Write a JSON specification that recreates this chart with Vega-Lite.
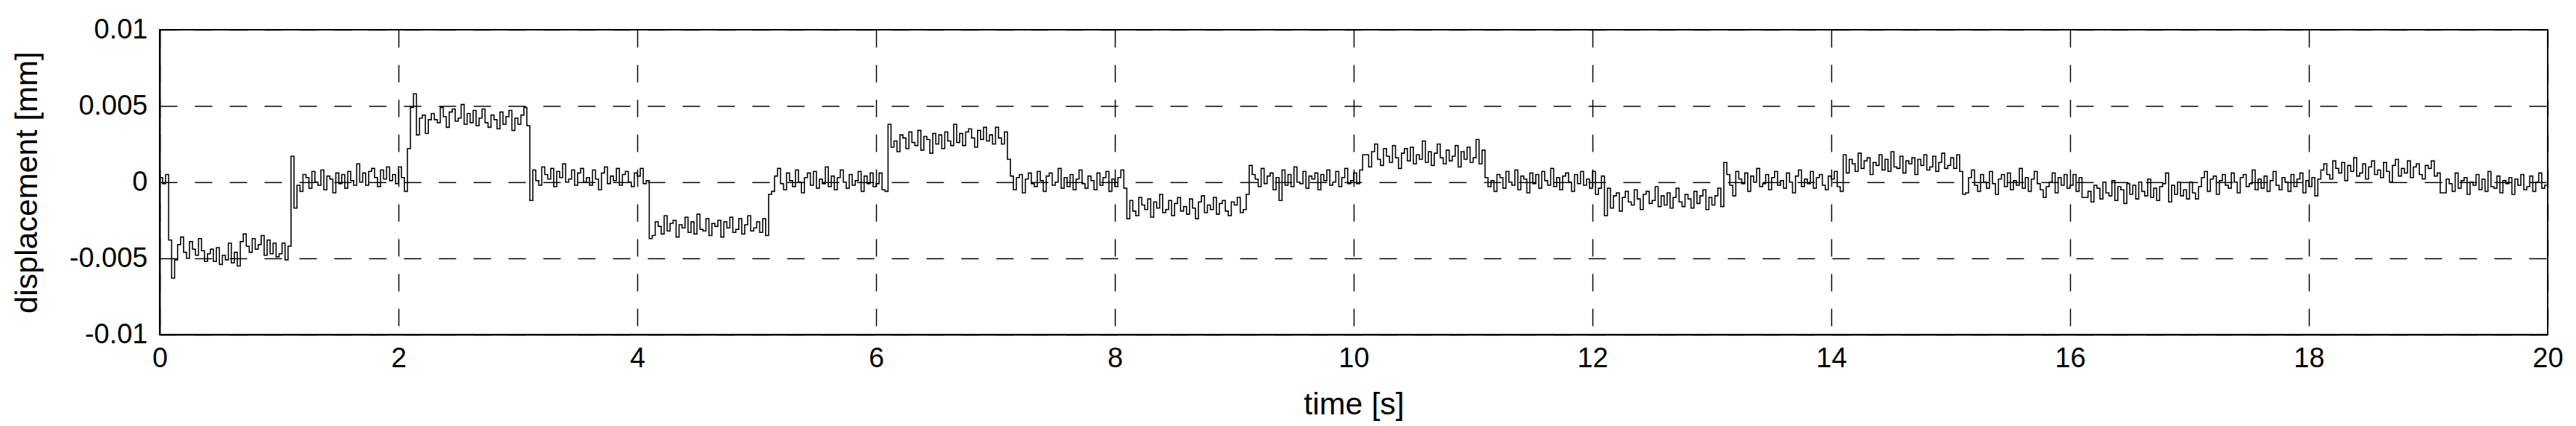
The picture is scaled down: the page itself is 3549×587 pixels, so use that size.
{
"$schema":"https://vega.github.io/schema/vega-lite/v6.json",
"width":3290,"height":420,
"autosize":{"type":"none"},
"padding":{"left":220,"top":41,"right":39,"bottom":126},
"background":"white",
"config":{"view":{"stroke":"black","strokeWidth":2},"font":"Liberation Sans"},
"data":{"values":[
{"t":0,"y":0.0003},{"t":0.025,"y":-0.0001},{"t":0.05,"y":0.0005},{"t":0.075,"y":-0.0038},{"t":0.1,"y":-0.0063},{"t":0.125,"y":-0.0051},{"t":0.15,"y":-0.0041},{"t":0.175,"y":-0.0036},{"t":0.2,"y":-0.0046},{"t":0.225,"y":-0.005},{"t":0.25,"y":-0.0039},{"t":0.275,"y":-0.0044},{"t":0.3,"y":-0.0048},{"t":0.325,"y":-0.0037},{"t":0.35,"y":-0.0045},{"t":0.375,"y":-0.0052},{"t":0.4,"y":-0.0047},{"t":0.425,"y":-0.0044},{"t":0.45,"y":-0.0052},{"t":0.475,"y":-0.0043},{"t":0.5,"y":-0.0054},{"t":0.525,"y":-0.0048},{"t":0.55,"y":-0.0051},{"t":0.575,"y":-0.004},{"t":0.6,"y":-0.0053},{"t":0.625,"y":-0.0046},{"t":0.65,"y":-0.0055},{"t":0.675,"y":-0.0039},{"t":0.7,"y":-0.0034},{"t":0.725,"y":-0.0042},{"t":0.75,"y":-0.0046},{"t":0.775,"y":-0.0037},{"t":0.8,"y":-0.0044},{"t":0.825,"y":-0.0041},{"t":0.85,"y":-0.0035},{"t":0.875,"y":-0.0048},{"t":0.9,"y":-0.0038},{"t":0.925,"y":-0.0047},{"t":0.95,"y":-0.004},{"t":0.975,"y":-0.0049},
{"t":1,"y":-0.0047},{"t":1.025,"y":-0.004},{"t":1.05,"y":-0.0051},{"t":1.075,"y":-0.0042},{"t":1.1,"y":0.0017},{"t":1.125,"y":-0.0017},{"t":1.15,"y":-0.0002},{"t":1.175,"y":-0.0006},{"t":1.2,"y":0.0005},{"t":1.225,"y":0.0003},{"t":1.25,"y":-0.0004},{"t":1.275,"y":0.0007},{"t":1.3,"y":0},{"t":1.325,"y":-0.0002},{"t":1.35,"y":0.0008},{"t":1.375,"y":-0.0005},{"t":1.4,"y":0.0004},{"t":1.425,"y":0.0002},{"t":1.45,"y":-0.0007},{"t":1.475,"y":0.0006},{"t":1.5,"y":-0.0001},{"t":1.525,"y":0.0005},{"t":1.55,"y":-0.0004},{"t":1.575,"y":0.0007},{"t":1.6,"y":0.0001},{"t":1.625,"y":-0.0002},{"t":1.65,"y":0.0012},{"t":1.675,"y":0},{"t":1.7,"y":0.0006},{"t":1.725,"y":-0.0002},{"t":1.75,"y":0.0007},{"t":1.775,"y":0.0009},{"t":1.8,"y":0.0003},{"t":1.825,"y":-0.0003},{"t":1.85,"y":0.0008},{"t":1.875,"y":0.0002},{"t":1.9,"y":0.001},{"t":1.925,"y":0.0001},{"t":1.95,"y":0.0005},{"t":1.975,"y":-0.0001},
{"t":2,"y":0.001},{"t":2.025,"y":0.0003},{"t":2.05,"y":-0.0006},{"t":2.075,"y":0.0022},{"t":2.1,"y":0.0049},{"t":2.125,"y":0.0058},{"t":2.15,"y":0.0031},{"t":2.175,"y":0.0042},{"t":2.2,"y":0.0044},{"t":2.225,"y":0.0032},{"t":2.25,"y":0.0041},{"t":2.275,"y":0.0045},{"t":2.3,"y":0.0041},{"t":2.325,"y":0.0039},{"t":2.35,"y":0.0049},{"t":2.375,"y":0.0043},{"t":2.4,"y":0.0036},{"t":2.425,"y":0.0046},{"t":2.45,"y":0.0048},{"t":2.475,"y":0.004},{"t":2.5,"y":0.0042},{"t":2.525,"y":0.0051},{"t":2.55,"y":0.0038},{"t":2.575,"y":0.0045},{"t":2.6,"y":0.0039},{"t":2.625,"y":0.0047},{"t":2.65,"y":0.0037},{"t":2.675,"y":0.0042},{"t":2.7,"y":0.0048},{"t":2.725,"y":0.0039},{"t":2.75,"y":0.0036},{"t":2.775,"y":0.0044},{"t":2.8,"y":0.0041},{"t":2.825,"y":0.0035},{"t":2.85,"y":0.0046},{"t":2.875,"y":0.0038},{"t":2.9,"y":0.0043},{"t":2.925,"y":0.0047},{"t":2.95,"y":0.0034},{"t":2.975,"y":0.0042},
{"t":3,"y":0.0038},{"t":3.025,"y":0.0044},{"t":3.05,"y":0.0049},{"t":3.075,"y":0.0037},{"t":3.1,"y":-0.0012},{"t":3.125,"y":0.0008},{"t":3.15,"y":0.0001},{"t":3.175,"y":-0.0002},{"t":3.2,"y":0.001},{"t":3.225,"y":0.0005},{"t":3.25,"y":0.0002},{"t":3.275,"y":0.0009},{"t":3.3,"y":-0.0003},{"t":3.325,"y":0.0007},{"t":3.35,"y":0.0003},{"t":3.375,"y":0.0012},{"t":3.4,"y":0},{"t":3.425,"y":0.0002},{"t":3.45,"y":0.0008},{"t":3.475,"y":-0.0002},{"t":3.5,"y":0.0006},{"t":3.525,"y":0.0009},{"t":3.55,"y":0},{"t":3.575,"y":0.0003},{"t":3.6,"y":-0.0002},{"t":3.625,"y":0.0008},{"t":3.65,"y":0.0002},{"t":3.675,"y":-0.0005},{"t":3.7,"y":0.0006},{"t":3.725,"y":0.001},{"t":3.75,"y":-0.0001},{"t":3.775,"y":0.0004},{"t":3.8,"y":0.0001},{"t":3.825,"y":0.0009},{"t":3.85,"y":-0.0002},{"t":3.875,"y":0.0005},{"t":3.9,"y":0.0007},{"t":3.925,"y":0},{"t":3.95,"y":-0.0003},{"t":3.975,"y":0.0006},
{"t":4,"y":0.0004},{"t":4.025,"y":0.0009},{"t":4.05,"y":-0.0001},{"t":4.075,"y":0.0001},{"t":4.1,"y":-0.0037},{"t":4.125,"y":-0.0035},{"t":4.15,"y":-0.0026},{"t":4.175,"y":-0.0029},{"t":4.2,"y":-0.0034},{"t":4.225,"y":-0.0022},{"t":4.25,"y":-0.0032},{"t":4.275,"y":-0.0027},{"t":4.3,"y":-0.0025},{"t":4.325,"y":-0.0036},{"t":4.35,"y":-0.0028},{"t":4.375,"y":-0.003},{"t":4.4,"y":-0.0023},{"t":4.425,"y":-0.0033},{"t":4.45,"y":-0.0026},{"t":4.475,"y":-0.0034},{"t":4.5,"y":-0.0021},{"t":4.525,"y":-0.0031},{"t":4.55,"y":-0.0032},{"t":4.575,"y":-0.0024},{"t":4.6,"y":-0.0035},{"t":4.625,"y":-0.0027},{"t":4.65,"y":-0.0029},{"t":4.675,"y":-0.0025},{"t":4.7,"y":-0.0036},{"t":4.725,"y":-0.0026},{"t":4.75,"y":-0.003},{"t":4.775,"y":-0.0023},{"t":4.8,"y":-0.0033},{"t":4.825,"y":-0.0031},{"t":4.85,"y":-0.0024},{"t":4.875,"y":-0.0034},{"t":4.9,"y":-0.0028},{"t":4.925,"y":-0.0022},{"t":4.95,"y":-0.0032},{"t":4.975,"y":-0.003},
{"t":5,"y":-0.0026},{"t":5.025,"y":-0.0033},{"t":5.05,"y":-0.0024},{"t":5.075,"y":-0.0035},{"t":5.1,"y":-0.0008},{"t":5.125,"y":-0.0006},{"t":5.15,"y":0.0004},{"t":5.175,"y":0.0009},{"t":5.2,"y":-0.0001},{"t":5.225,"y":-0.0005},{"t":5.25,"y":0.0006},{"t":5.275,"y":0.0001},{"t":5.3,"y":-0.0003},{"t":5.325,"y":0.0008},{"t":5.35,"y":0},{"t":5.375,"y":-0.0007},{"t":5.4,"y":0.0003},{"t":5.425,"y":0.0006},{"t":5.45,"y":-0.0002},{"t":5.475,"y":0.0007},{"t":5.5,"y":-0.0004},{"t":5.525,"y":0.0002},{"t":5.55,"y":-0.0001},{"t":5.575,"y":0.001},{"t":5.6,"y":-0.0003},{"t":5.625,"y":0.0004},{"t":5.65,"y":-0.0005},{"t":5.675,"y":0.0003},{"t":5.7,"y":0.0008},{"t":5.725,"y":0},{"t":5.75,"y":-0.0004},{"t":5.775,"y":0.0005},{"t":5.8,"y":-0.0002},{"t":5.825,"y":0.0001},{"t":5.85,"y":0.0007},{"t":5.875,"y":-0.0006},{"t":5.9,"y":0.0004},{"t":5.925,"y":-0.0001},{"t":5.95,"y":0.0006},{"t":5.975,"y":-0.0003},
{"t":6,"y":-0.0001},{"t":6.025,"y":0.0006},{"t":6.05,"y":-0.0005},{"t":6.075,"y":-0.0006},{"t":6.1,"y":0.0038},{"t":6.125,"y":0.0023},{"t":6.15,"y":0.0027},{"t":6.175,"y":0.002},{"t":6.2,"y":0.0031},{"t":6.225,"y":0.0029},{"t":6.25,"y":0.0022},{"t":6.275,"y":0.0033},{"t":6.3,"y":0.0026},{"t":6.325,"y":0.0024},{"t":6.35,"y":0.0034},{"t":6.375,"y":0.0021},{"t":6.4,"y":0.003},{"t":6.425,"y":0.0028},{"t":6.45,"y":0.0019},{"t":6.475,"y":0.0032},{"t":6.5,"y":0.0025},{"t":6.525,"y":0.0031},{"t":6.55,"y":0.0022},{"t":6.575,"y":0.0033},{"t":6.6,"y":0.0027},{"t":6.625,"y":0.0024},{"t":6.65,"y":0.0038},{"t":6.675,"y":0.0026},{"t":6.7,"y":0.0032},{"t":6.725,"y":0.0024},{"t":6.75,"y":0.0033},{"t":6.775,"y":0.0035},{"t":6.8,"y":0.0029},{"t":6.825,"y":0.0023},{"t":6.85,"y":0.0034},{"t":6.875,"y":0.0028},{"t":6.9,"y":0.0036},{"t":6.925,"y":0.0027},{"t":6.95,"y":0.0031},{"t":6.975,"y":0.0025},
{"t":7,"y":0.0036},{"t":7.025,"y":0.0029},{"t":7.05,"y":0.0025},{"t":7.075,"y":0.0033},{"t":7.1,"y":0.0015},{"t":7.125,"y":0.0004},{"t":7.15,"y":-0.0005},{"t":7.175,"y":0.0003},{"t":7.2,"y":0.0005},{"t":7.225,"y":-0.0007},{"t":7.25,"y":0.0002},{"t":7.275,"y":0.0006},{"t":7.3,"y":-0.0001},{"t":7.325,"y":-0.0003},{"t":7.35,"y":0.0007},{"t":7.375,"y":0.0001},{"t":7.4,"y":-0.0006},{"t":7.425,"y":0.0004},{"t":7.45,"y":0.0006},{"t":7.475,"y":-0.0002},{"t":7.5,"y":0},{"t":7.525,"y":0.0009},{"t":7.55,"y":-0.0004},{"t":7.575,"y":0.0003},{"t":7.6,"y":-0.0003},{"t":7.625,"y":0.0005},{"t":7.65,"y":-0.0005},{"t":7.675,"y":0.0002},{"t":7.7,"y":0.0008},{"t":7.725,"y":-0.0001},{"t":7.75,"y":-0.0004},{"t":7.775,"y":0.0004},{"t":7.8,"y":0.0001},{"t":7.825,"y":-0.0005},{"t":7.85,"y":0.0006},{"t":7.875,"y":-0.0002},{"t":7.9,"y":0.0003},{"t":7.925,"y":0.0007},{"t":7.95,"y":-0.0006},{"t":7.975,"y":0.0002},
{"t":8,"y":-0.0003},{"t":8.025,"y":0.0003},{"t":8.05,"y":0.0008},{"t":8.075,"y":-0.0004},{"t":8.1,"y":-0.0024},{"t":8.125,"y":-0.0012},{"t":8.15,"y":-0.0019},{"t":8.175,"y":-0.0022},{"t":8.2,"y":-0.001},{"t":8.225,"y":-0.0015},{"t":8.25,"y":-0.0018},{"t":8.275,"y":-0.0011},{"t":8.3,"y":-0.0023},{"t":8.325,"y":-0.0013},{"t":8.35,"y":-0.0017},{"t":8.375,"y":-0.0008},{"t":8.4,"y":-0.002},{"t":8.425,"y":-0.0018},{"t":8.45,"y":-0.0012},{"t":8.475,"y":-0.0022},{"t":8.5,"y":-0.0014},{"t":8.525,"y":-0.001},{"t":8.55,"y":-0.0019},{"t":8.575,"y":-0.0016},{"t":8.6,"y":-0.0021},{"t":8.625,"y":-0.0011},{"t":8.65,"y":-0.0017},{"t":8.675,"y":-0.0024},{"t":8.7,"y":-0.0013},{"t":8.725,"y":-0.0009},{"t":8.75,"y":-0.002},{"t":8.775,"y":-0.0015},{"t":8.8,"y":-0.0018},{"t":8.825,"y":-0.001},{"t":8.85,"y":-0.0021},{"t":8.875,"y":-0.0014},{"t":8.9,"y":-0.0012},{"t":8.925,"y":-0.0019},{"t":8.95,"y":-0.0022},{"t":8.975,"y":-0.0013},
{"t":9,"y":-0.0015},{"t":9.025,"y":-0.001},{"t":9.05,"y":-0.002},{"t":9.075,"y":-0.0018},{"t":9.1,"y":-0.0008},{"t":9.125,"y":0.0011},{"t":9.15,"y":0.0005},{"t":9.175,"y":0.0002},{"t":9.2,"y":-0.0003},{"t":9.225,"y":0.0009},{"t":9.25,"y":-0.0001},{"t":9.275,"y":0.0004},{"t":9.3,"y":0.0006},{"t":9.325,"y":-0.0005},{"t":9.35,"y":0.0003},{"t":9.375,"y":-0.0012},{"t":9.4,"y":0.0008},{"t":9.425,"y":-0.0002},{"t":9.45,"y":0.0005},{"t":9.475,"y":-0.0003},{"t":9.5,"y":0.001},{"t":9.525,"y":0},{"t":9.55,"y":-0.0001},{"t":9.575,"y":0.0007},{"t":9.6,"y":-0.0004},{"t":9.625,"y":0.0004},{"t":9.65,"y":0.0002},{"t":9.675,"y":0.0006},{"t":9.7,"y":-0.0005},{"t":9.725,"y":0.0005},{"t":9.75,"y":0.0001},{"t":9.775,"y":0.0008},{"t":9.8,"y":-0.0002},{"t":9.825,"y":0},{"t":9.85,"y":0.0007},{"t":9.875,"y":-0.0003},{"t":9.9,"y":0.0003},{"t":9.925,"y":0.0009},{"t":9.95,"y":-0.0001},{"t":9.975,"y":0.0001},
{"t":10,"y":0.0006},{"t":10.025,"y":-0.0001},{"t":10.05,"y":0.0008},{"t":10.075,"y":0.0018},{"t":10.1,"y":0.0018},{"t":10.125,"y":0.001},{"t":10.15,"y":0.002},{"t":10.175,"y":0.0025},{"t":10.2,"y":0.0015},{"t":10.225,"y":0.0011},{"t":10.25,"y":0.0022},{"t":10.275,"y":0.0017},{"t":10.3,"y":0.0013},{"t":10.325,"y":0.0024},{"t":10.35,"y":0.0016},{"t":10.375,"y":0.0009},{"t":10.4,"y":0.0019},{"t":10.425,"y":0.0022},{"t":10.45,"y":0.0014},{"t":10.475,"y":0.0023},{"t":10.5,"y":0.0012},{"t":10.525,"y":0.0018},{"t":10.55,"y":0.0015},{"t":10.575,"y":0.0027},{"t":10.6,"y":0.0013},{"t":10.625,"y":0.002},{"t":10.65,"y":0.0011},{"t":10.675,"y":0.0019},{"t":10.7,"y":0.0025},{"t":10.725,"y":0.0016},{"t":10.75,"y":0.0012},{"t":10.775,"y":0.0021},{"t":10.8,"y":0.0014},{"t":10.825,"y":0.0017},{"t":10.85,"y":0.0024},{"t":10.875,"y":0.001},{"t":10.9,"y":0.002},{"t":10.925,"y":0.0015},{"t":10.95,"y":0.0023},{"t":10.975,"y":0.0013},
{"t":11,"y":0.0016},{"t":11.025,"y":0.0028},{"t":11.05,"y":0.0012},{"t":11.075,"y":0.0021},{"t":11.1,"y":0.0003},{"t":11.125,"y":-0.0003},{"t":11.15,"y":0.0001},{"t":11.175,"y":-0.0006},{"t":11.2,"y":0.0005},{"t":11.225,"y":0.0003},{"t":11.25,"y":-0.0004},{"t":11.275,"y":0.0007},{"t":11.3,"y":0},{"t":11.325,"y":-0.0002},{"t":11.35,"y":0.0008},{"t":11.375,"y":-0.0005},{"t":11.4,"y":0.0004},{"t":11.425,"y":0.0002},{"t":11.45,"y":-0.0007},{"t":11.475,"y":0.0006},{"t":11.5,"y":-0.0001},{"t":11.525,"y":0.0005},{"t":11.55,"y":-0.0004},{"t":11.575,"y":0.0007},{"t":11.6,"y":0.0001},{"t":11.625,"y":-0.0002},{"t":11.65,"y":0.0009},{"t":11.675,"y":-0.0003},{"t":11.7,"y":0.0003},{"t":11.725,"y":-0.0005},{"t":11.75,"y":0.0004},{"t":11.775,"y":0.0006},{"t":11.8,"y":0},{"t":11.825,"y":-0.0006},{"t":11.85,"y":0.0005},{"t":11.875,"y":-0.0001},{"t":11.9,"y":0.0007},{"t":11.925,"y":-0.0002},{"t":11.95,"y":0.0002},{"t":11.975,"y":-0.0004},
{"t":12,"y":0.0007},{"t":12.025,"y":-0.0008},{"t":12.05,"y":-0.0004},{"t":12.075,"y":0.0004},{"t":12.1,"y":-0.0022},{"t":12.125,"y":-0.0004},{"t":12.15,"y":-0.0017},{"t":12.175,"y":-0.0009},{"t":12.2,"y":-0.0007},{"t":12.225,"y":-0.0019},{"t":12.25,"y":-0.001},{"t":12.275,"y":-0.0006},{"t":12.3,"y":-0.0013},{"t":12.325,"y":-0.0015},{"t":12.35,"y":-0.0005},{"t":12.375,"y":-0.0011},{"t":12.4,"y":-0.0018},{"t":12.425,"y":-0.0008},{"t":12.45,"y":-0.0006},{"t":12.475,"y":-0.0014},{"t":12.5,"y":-0.0012},{"t":12.525,"y":-0.0003},{"t":12.55,"y":-0.0016},{"t":12.575,"y":-0.0009},{"t":12.6,"y":-0.0015},{"t":12.625,"y":-0.0007},{"t":12.65,"y":-0.0017},{"t":12.675,"y":-0.001},{"t":12.7,"y":-0.0004},{"t":12.725,"y":-0.0013},{"t":12.75,"y":-0.0016},{"t":12.775,"y":-0.0008},{"t":12.8,"y":-0.0011},{"t":12.825,"y":-0.0017},{"t":12.85,"y":-0.0006},{"t":12.875,"y":-0.0014},{"t":12.9,"y":-0.0009},{"t":12.925,"y":-0.0005},{"t":12.95,"y":-0.0018},{"t":12.975,"y":-0.001},
{"t":13,"y":-0.0015},{"t":13.025,"y":-0.0009},{"t":13.05,"y":-0.0004},{"t":13.075,"y":-0.0016},{"t":13.1,"y":0.0013},{"t":13.125,"y":0.0005},{"t":13.15,"y":-0.0002},{"t":13.175,"y":-0.0009},{"t":13.2,"y":0.0007},{"t":13.225,"y":0.0002},{"t":13.25,"y":-0.0001},{"t":13.275,"y":0.0006},{"t":13.3,"y":-0.0006},{"t":13.325,"y":0.0004},{"t":13.35,"y":0},{"t":13.375,"y":0.0009},{"t":13.4,"y":-0.0003},{"t":13.425,"y":-0.0001},{"t":13.45,"y":0.0005},{"t":13.475,"y":-0.0005},{"t":13.5,"y":0.0003},{"t":13.525,"y":0.0007},{"t":13.55,"y":-0.0002},{"t":13.575,"y":0.0001},{"t":13.6,"y":-0.0004},{"t":13.625,"y":0.0006},{"t":13.65,"y":0},{"t":13.675,"y":-0.0007},{"t":13.7,"y":0.0004},{"t":13.725,"y":0.0008},{"t":13.75,"y":-0.0003},{"t":13.775,"y":0.0002},{"t":13.8,"y":-0.0001},{"t":13.825,"y":0.0007},{"t":13.85,"y":-0.0004},{"t":13.875,"y":0.0003},{"t":13.9,"y":0.0005},{"t":13.925,"y":-0.0002},{"t":13.95,"y":-0.0005},{"t":13.975,"y":0.0004},
{"t":14,"y":0.0002},{"t":14.025,"y":0.0007},{"t":14.05,"y":-0.0003},{"t":14.075,"y":-0.0006},{"t":14.1,"y":0.0018},{"t":14.125,"y":0.0006},{"t":14.15,"y":0.0015},{"t":14.175,"y":0.0012},{"t":14.2,"y":0.0007},{"t":14.225,"y":0.0019},{"t":14.25,"y":0.0009},{"t":14.275,"y":0.0014},{"t":14.3,"y":0.0016},{"t":14.325,"y":0.0005},{"t":14.35,"y":0.0013},{"t":14.375,"y":0.0011},{"t":14.4,"y":0.0018},{"t":14.425,"y":0.0008},{"t":14.45,"y":0.0015},{"t":14.475,"y":0.0007},{"t":14.5,"y":0.002},{"t":14.525,"y":0.001},{"t":14.55,"y":0.0009},{"t":14.575,"y":0.0017},{"t":14.6,"y":0.0006},{"t":14.625,"y":0.0014},{"t":14.65,"y":0.0012},{"t":14.675,"y":0.0016},{"t":14.7,"y":0.0005},{"t":14.725,"y":0.0015},{"t":14.75,"y":0.0011},{"t":14.775,"y":0.0018},{"t":14.8,"y":0.0008},{"t":14.825,"y":0.001},{"t":14.85,"y":0.0017},{"t":14.875,"y":0.0007},{"t":14.9,"y":0.0013},{"t":14.925,"y":0.0019},{"t":14.95,"y":0.0009},{"t":14.975,"y":0.0011},
{"t":15,"y":0.0016},{"t":15.025,"y":0.0009},{"t":15.05,"y":0.0018},{"t":15.075,"y":0.0007},{"t":15.1,"y":-0.0008},{"t":15.125,"y":-0.0007},{"t":15.15,"y":0.0003},{"t":15.175,"y":0.0008},{"t":15.2,"y":-0.0002},{"t":15.225,"y":-0.0006},{"t":15.25,"y":0.0005},{"t":15.275,"y":0},{"t":15.3,"y":-0.0004},{"t":15.325,"y":0.0007},{"t":15.35,"y":-0.0001},{"t":15.375,"y":-0.0008},{"t":15.4,"y":0.0002},{"t":15.425,"y":0.0005},{"t":15.45,"y":-0.0003},{"t":15.475,"y":0.0006},{"t":15.5,"y":-0.0005},{"t":15.525,"y":0.0001},{"t":15.55,"y":-0.0002},{"t":15.575,"y":0.0009},{"t":15.6,"y":-0.0004},{"t":15.625,"y":0.0003},{"t":15.65,"y":-0.0006},{"t":15.675,"y":0.0002},{"t":15.7,"y":0.0007},{"t":15.725,"y":-0.0001},{"t":15.75,"y":-0.0005},{"t":15.775,"y":-0.001},{"t":15.8,"y":-0.0003},{"t":15.825,"y":0},{"t":15.85,"y":0.0006},{"t":15.875,"y":-0.0007},{"t":15.9,"y":0.0003},{"t":15.925,"y":-0.0002},{"t":15.95,"y":0.0005},{"t":15.975,"y":-0.0004},
{"t":16,"y":-0.0002},{"t":16.025,"y":0.0005},{"t":16.05,"y":-0.0006},{"t":16.075,"y":0.0003},{"t":16.1,"y":-0.001},{"t":16.125,"y":-0.001},{"t":16.15,"y":-0.0006},{"t":16.175,"y":-0.0013},{"t":16.2,"y":-0.0002},{"t":16.225,"y":-0.0004},{"t":16.25,"y":-0.0011},{"t":16.275,"y":0},{"t":16.3,"y":-0.0007},{"t":16.325,"y":-0.0009},{"t":16.35,"y":0.0001},{"t":16.375,"y":-0.0012},{"t":16.4,"y":-0.0003},{"t":16.425,"y":-0.0005},{"t":16.45,"y":-0.0014},{"t":16.475,"y":-0.0001},{"t":16.5,"y":-0.0008},{"t":16.525,"y":-0.0002},{"t":16.55,"y":-0.0011},{"t":16.575,"y":0},{"t":16.6,"y":-0.0006},{"t":16.625,"y":-0.0009},{"t":16.65,"y":0.0002},{"t":16.675,"y":-0.001},{"t":16.7,"y":-0.0004},{"t":16.725,"y":-0.0012},{"t":16.75,"y":-0.0003},{"t":16.775,"y":-0.0001},{"t":16.8,"y":0.0006},{"t":16.825,"y":-0.0013},{"t":16.85,"y":-0.0002},{"t":16.875,"y":-0.0008},{"t":16.9,"y":0},{"t":16.925,"y":-0.0009},{"t":16.95,"y":-0.0005},{"t":16.975,"y":-0.0011},
{"t":17,"y":0},{"t":17.025,"y":-0.0007},{"t":17.05,"y":-0.0011},{"t":17.075,"y":-0.0003},{"t":17.1,"y":0.0003},{"t":17.125,"y":0.0007},{"t":17.15,"y":-0.0006},{"t":17.175,"y":0.0002},{"t":17.2,"y":0.0004},{"t":17.225,"y":-0.0008},{"t":17.25,"y":0.0001},{"t":17.275,"y":0.0005},{"t":17.3,"y":-0.0002},{"t":17.325,"y":-0.0004},{"t":17.35,"y":0.0006},{"t":17.375,"y":0},{"t":17.4,"y":-0.0007},{"t":17.425,"y":0.0003},{"t":17.45,"y":0.0005},{"t":17.475,"y":-0.0003},{"t":17.5,"y":-0.0001},{"t":17.525,"y":0.0008},{"t":17.55,"y":-0.0005},{"t":17.575,"y":0.0002},{"t":17.6,"y":-0.0004},{"t":17.625,"y":0.0004},{"t":17.65,"y":-0.0006},{"t":17.675,"y":0.0001},{"t":17.7,"y":0.0007},{"t":17.725,"y":-0.0002},{"t":17.75,"y":-0.0005},{"t":17.775,"y":0.0003},{"t":17.8,"y":0},{"t":17.825,"y":-0.0006},{"t":17.85,"y":0.0005},{"t":17.875,"y":-0.0003},{"t":17.9,"y":0.0002},{"t":17.925,"y":0.0006},{"t":17.95,"y":-0.0007},{"t":17.975,"y":0.0001},
{"t":18,"y":-0.0003},{"t":18.025,"y":0.0003},{"t":18.05,"y":-0.0009},{"t":18.075,"y":0.0002},{"t":18.1,"y":0.0008},{"t":18.125,"y":0.0012},{"t":18.15,"y":0.0005},{"t":18.175,"y":0.0002},{"t":18.2,"y":0.0014},{"t":18.225,"y":0.0009},{"t":18.25,"y":0.0006},{"t":18.275,"y":0.0013},{"t":18.3,"y":0.0001},{"t":18.325,"y":0.0011},{"t":18.35,"y":0.0007},{"t":18.375,"y":0.0016},{"t":18.4,"y":0.0004},{"t":18.425,"y":0.0006},{"t":18.45,"y":0.0012},{"t":18.475,"y":0.0002},{"t":18.5,"y":0.001},{"t":18.525,"y":0.0014},{"t":18.55,"y":0.0005},{"t":18.575,"y":0.0008},{"t":18.6,"y":0.0003},{"t":18.625,"y":0.0013},{"t":18.65,"y":0.0007},{"t":18.675,"y":0},{"t":18.7,"y":0.0011},{"t":18.725,"y":0.0015},{"t":18.75,"y":0.0004},{"t":18.775,"y":0.0009},{"t":18.8,"y":0.0006},{"t":18.825,"y":0.0014},{"t":18.85,"y":0.0003},{"t":18.875,"y":0.001},{"t":18.9,"y":0.0012},{"t":18.925,"y":0.0005},{"t":18.95,"y":0.0002},{"t":18.975,"y":0.0011},
{"t":19,"y":0.0009},{"t":19.025,"y":0.0014},{"t":19.05,"y":0.0004},{"t":19.075,"y":0.0006},{"t":19.1,"y":-0.0007},{"t":19.125,"y":-0.0007},{"t":19.15,"y":0.0002},{"t":19.175,"y":-0.0001},{"t":19.2,"y":-0.0006},{"t":19.225,"y":0.0006},{"t":19.25,"y":-0.0004},{"t":19.275,"y":0.0001},{"t":19.3,"y":0.0003},{"t":19.325,"y":-0.0008},{"t":19.35,"y":0},{"t":19.375,"y":-0.0002},{"t":19.4,"y":0.0005},{"t":19.425,"y":-0.0005},{"t":19.45,"y":0.0002},{"t":19.475,"y":-0.0006},{"t":19.5,"y":0.0007},{"t":19.525,"y":-0.0003},{"t":19.55,"y":-0.0004},{"t":19.575,"y":0.0004},{"t":19.6,"y":-0.0007},{"t":19.625,"y":0.0001},{"t":19.65,"y":-0.0001},{"t":19.675,"y":0.0003},{"t":19.7,"y":-0.0008},{"t":19.725,"y":0.0002},{"t":19.75,"y":-0.0002},{"t":19.775,"y":0.0005},{"t":19.8,"y":-0.0005},{"t":19.825,"y":-0.0003},{"t":19.85,"y":0.0004},{"t":19.875,"y":-0.0006},{"t":19.9,"y":0},{"t":19.925,"y":0.0006},{"t":19.95,"y":-0.0004},{"t":19.975,"y":-0.0002},
{"t":20,"y":-0.0001}
]},
"mark":{"type":"line","interpolate":"step-after","color":"black","strokeWidth":1.6},
"encoding":{
"x":{"field":"t","type":"quantitative","scale":{"domain":[0,20],"nice":false,"zero":false},
"axis":{"title":"time [s]","values":[0,2,4,6,8,10,12,14,16,18,20],"format":"d","labelFontSize":38,"labelColor":"black","labelPadding":14,"labelFlush":false,"labelOverlap":false,"labelBound":false,"ticks":false,"domainColor":"black","domainWidth":2,"grid":true,"gridColor":"black","gridOpacity":1,"gridDash":[24,24],"gridWidth":1.5,"titleFontSize":43,"titleFontWeight":"normal","titleColor":"black","titlePadding":23}},
"y":{"field":"y","type":"quantitative","scale":{"domain":[-0.01,0.01],"nice":false,"zero":false},
"axis":{"title":"displacement [mm]","values":[-0.01,-0.005,0,0.005,0.01],"labelExpr":"datum.value < 0 ? '-' + format(-datum.value, '~g') : format(datum.value, '~g')","labelFontSize":38,"labelColor":"black","labelPadding":17,"labelFlush":false,"labelOverlap":false,"labelBound":false,"ticks":false,"domainColor":"black","domainWidth":2,"grid":true,"gridColor":"black","gridOpacity":1,"gridDash":[24,24],"gridWidth":1.5,"titleFontSize":43,"titleFontWeight":"normal","titleColor":"black","titlePadding":36}}
}
}
